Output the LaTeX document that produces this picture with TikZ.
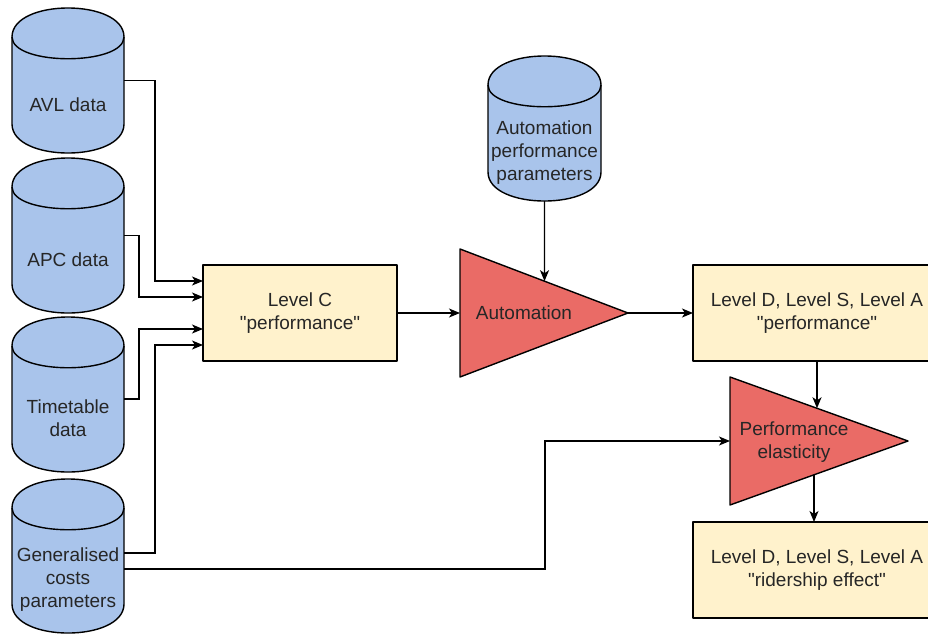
\documentclass[tikz,border=0pt]{standalone}
\usepackage{fontspec}
\setmainfont{Liberation Sans}[Ligatures=TeXOff]
\usetikzlibrary{arrows.meta,calc}

\definecolor{dbblue}{HTML}{A9C4EB}
\definecolor{procyellow}{HTML}{FFF2CC}
\definecolor{opred}{HTML}{EA6B66}
\definecolor{txt}{HTML}{262626}

\tikzset{
  outline/.style={draw=black, line width=1.4pt, line join=round},
  cylbody/.style={outline, fill=dbblue},
  anchorbox/.style={inner sep=0pt, outer sep=0pt, draw=none},
  lbl/.style={font=\fontsize{19}{23}\selectfont, text=txt, align=center, inner sep=0pt},
  procbox/.style={outline, fill=procyellow, inner sep=0pt, outer sep=0pt,
    align=center, font=\fontsize{19}{23}\selectfont, text=txt},
  optri/.style={outline, fill=opred},
  conn/.style={draw=black, line width=1.4pt, line join=miter,
    -{Stealth[length=11pt,width=9pt,inset=3pt]}},
}

% database cylinder: name, left, top, right, bottom, label
\newcommand\dbcyl[6]{%
  \path[cylbody] (#2,#3+29) .. controls (#2,#3-9.7) and (#4,#3-9.7) .. (#4,#3+29)
    -- (#4,#5-29) .. controls (#4,#5+9.7) and (#2,#5+9.7) .. (#2,#5-29) -- cycle;
  \draw[outline] (#4,#3+29) .. controls (#4,#3+58) and (#2,#3+58) .. (#2,#3+29);
  \node[anchorbox, minimum width={(#4-#2)*1pt}, minimum height={(#5-#3)*1pt}]
    (#1) at ({(#2+#4)/2},{(#3+#5)/2}) {};
  \node[lbl] (#1-label) at ({(#2+#4)/2},{(#3+#5)/2+24}) {#6};
}

\begin{document}
\begin{tikzpicture}[x=1pt, y=-1pt]
  \useasboundingbox (0,0) rectangle (928,635);

  % data sources
  \dbcyl{avl}{12}{8}{124}{153}{AVL data}
  \dbcyl{apc}{12}{158}{124}{313}{APC data}
  \dbcyl{tt}{12}{317}{124}{472}{Timetable\\data}
  \dbcyl{gen}{12}{479}{124}{633}{\fontsize{19}{24.5}\selectfont Generalised\\costs\\parameters}
  \dbcyl{ap}{488}{56}{601}{201}{Automation\\performance\\parameters}

  % process boxes
  \node[procbox, minimum width=194pt, minimum height=96pt] (lc) at (300,313)
    {Level C\\"performance"};
  \node[procbox, minimum width=248pt, minimum height=96pt] (ldp) at (817,313)
    {Level D, Level S, Level A\\"performance"};
  \node[procbox, minimum width=248pt, minimum height=96pt] (ldr) at (817,570)
    {Level D, Level S, Level A\\"ridership effect"};

  % automation operator
  \coordinate (auta) at (460,249);
  \coordinate (autb) at (460,377);
  \coordinate (autc) at (628,313);
  \draw[optri] (auta) -- (autc) -- (autb) -- cycle;
  \node[lbl] (aut) at (524,313) {Automation};

  % elasticity operator
  \coordinate (pea) at (730,377);
  \coordinate (peb) at (730,505);
  \coordinate (pec) at (908,441);
  \coordinate (pein) at ($(pea)!0.5!(peb)$);
  \draw[optri] (pea) -- (pec) -- (peb) -- cycle;
  \node[lbl] (pel) at (794,442) {Performance\\elasticity};

  % inputs to Level C
  \draw[conn] (avl.east) -| ([xshift=-48pt,yshift=32pt]lc.west) -- ([yshift=32pt]lc.west);
  \draw[conn] (apc.east) -| ([xshift=-64pt,yshift=16pt]lc.west) -- ([yshift=16pt]lc.west);
  \draw[conn] ([yshift=-4.5pt]tt.east) -| ([xshift=-64pt,yshift=-16pt]lc.west) -- ([yshift=-16pt]lc.west);
  \draw[conn] ([yshift=3pt]gen.east) -| ([xshift=-48pt,yshift=-32pt]lc.west) -- ([yshift=-32pt]lc.west);

  % generalised costs to elasticity
  \draw[conn] ([yshift=-13pt]gen.east) -| ($(pein)+(-185,0)$) -- (pein);

  % main chain
  \draw[conn] (lc.east) -- (lc.east -| auta);
  \draw[conn] (ap.south) -- (intersection of ap.south--ap.north and auta--autc);
  \draw[conn] (autc) -- (ldp.west);
  \draw[conn] (ldp.south) -- (intersection of ldp.south--ldp.north and pea--pec);
  \coordinate (ldrtop) at ([xshift=-3pt]ldr.north);
  \coordinate (ldrbot) at ([xshift=-3pt]ldr.south);
  \draw[conn] (intersection of ldrtop--ldrbot and peb--pec) -- (ldrtop);
\end{tikzpicture}
\end{document}
